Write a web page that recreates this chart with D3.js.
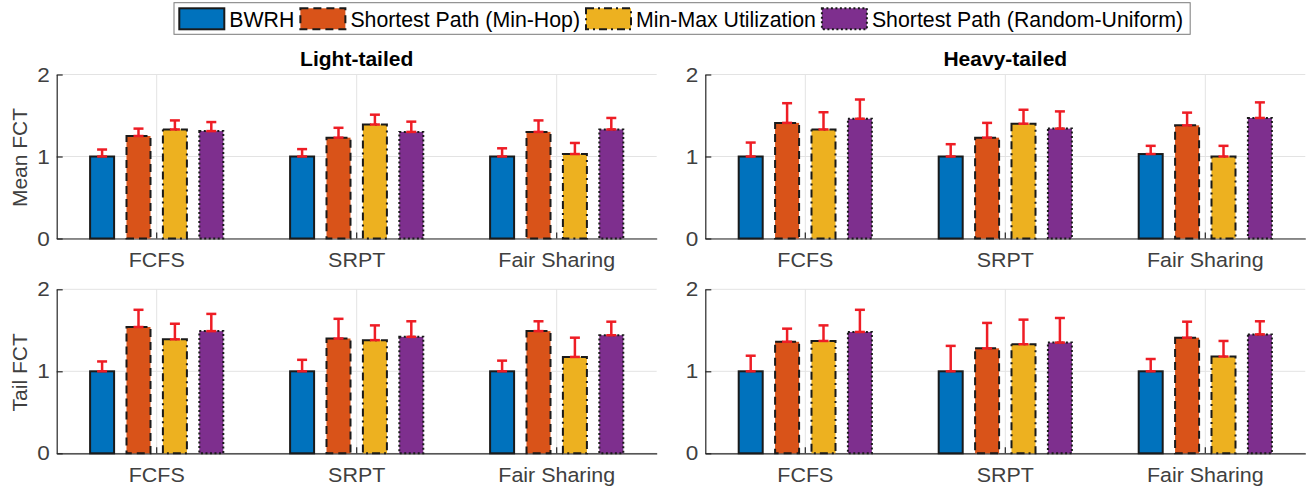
<!DOCTYPE html>
<html><head><meta charset="utf-8">
<script src="https://cdn.jsdelivr.net/npm/d3@7"></script>
<style>
body{margin:0;background:#fff}
svg{display:block}
text{font-family:"Liberation Sans",Arial,Helvetica,sans-serif}
</style>
</head><body>
<svg id="c" width="1312" height="489"></svg>
<script>
// ---------- data ----------
const categories = ["FCFS", "SRPT", "Fair Sharing"];
const seriesNames = ["BWRH", "Shortest Path (Min-Hop)", "Min-Max Utilization", "Shortest Path (Random-Uniform)"];
const yTickValues = [0, 1, 2];
const columnTitles = ["Light-tailed", "Heavy-tailed"];
const rowLabels = ["Mean FCT", "Tail FCT"];

// rows = series (BWRH, Min-Hop, Min-Max, Random-Uniform), columns = categories
const lightMean    = [[1.00, 1.00, 1.00], [1.25, 1.23, 1.30], [1.33, 1.39, 1.03], [1.31, 1.30, 1.33]];
const lightMeanErr = [[0.085, 0.09, 0.10], [0.09, 0.12, 0.14], [0.11, 0.12, 0.135], [0.11, 0.125, 0.14]];
const heavyMean    = [[1.00, 1.00, 1.03], [1.41, 1.23, 1.38], [1.33, 1.40, 1.00], [1.46, 1.34, 1.47]];
const heavyMeanErr = [[0.17, 0.15, 0.10], [0.24, 0.18, 0.155], [0.21, 0.17, 0.13], [0.235, 0.21, 0.19]];
const lightTail    = [[1.00, 1.00, 1.00], [1.54, 1.40, 1.49], [1.39, 1.38, 1.175], [1.49, 1.42, 1.44]];
const lightTailErr = [[0.12, 0.14, 0.13], [0.21, 0.24, 0.12], [0.19, 0.18, 0.235], [0.21, 0.19, 0.165]];
const heavyTail    = [[1.00, 1.00, 1.00], [1.36, 1.28, 1.41], [1.37, 1.33, 1.18], [1.48, 1.35, 1.45]];
const heavyTailErr = [[0.19, 0.31, 0.15], [0.16, 0.31, 0.195], [0.19, 0.30, 0.19], [0.27, 0.30, 0.16]];

// ---------- styles ----------
const TICKFONT = 19.5, YTICKFONT = 20.5, SX = 1.1;
const colors = ["#0072BD", "#D95319", "#EDB120", "#7E2F8E"];
const dashes = [null, "8,5", "8,4,2,4", "2,2.5"];
const edgeColor = "#1a1a1a";
const errColor = "#EE1D25";
const axisColor = "#262626";
const gridColor = "#e3e3e3";
const tickColor = "#404040";

const svg = d3.select("#c");

const panels = [
  {vals: lightMean, errs: lightMeanErr, col: 0, row: 0},
  {vals: heavyMean, errs: heavyMeanErr, col: 1, row: 0},
  {vals: lightTail, errs: lightTailErr, col: 0, row: 1},
  {vals: heavyTail, errs: heavyTailErr, col: 1, row: 1}
];
const colX = [[56.7, 656.7], [705.3, 1305.3]];
const rowY = [[74.5, 238.5], [289.3, 453.3]];

panels.forEach(p => {
  const [x0, x1] = colX[p.col];
  const [yt, yb] = rowY[p.row];
  const g = svg.append("g");

  const xb = d3.scaleBand().domain(categories).range([x0, x1]).paddingInner(0).paddingOuter(0);
  const y = d3.scaleLinear().domain([0, 2]).range([yb, yt]);
  const off = d3.scaleLinear().domain([0, 3]).range([-0.273, 0.273]);
  const bw = xb.bandwidth();
  const barW = 0.12 * bw;
  const cx = c => xb(c) + bw / 2;

  // grid
  g.append("g").selectAll("line").data(yTickValues).join("line")
    .attr("x1", x0).attr("x2", x1).attr("y1", d => y(d)).attr("y2", d => y(d))
    .attr("stroke", gridColor).attr("stroke-width", 1);
  g.append("g").selectAll("line").data(categories).join("line")
    .attr("x1", d => cx(d)).attr("x2", d => cx(d)).attr("y1", yb).attr("y2", yt)
    .attr("stroke", gridColor).attr("stroke-width", 1);

  // axes
  const ya = g.append("g").attr("transform", `translate(${x0},0)`)
    .call(d3.axisLeft(y).tickValues(yTickValues).tickFormat(d3.format("d")).tickSizeInner(-6).tickSizeOuter(0).tickPadding(6.4));
  const xa = g.append("g").attr("transform", `translate(0,${yb})`)
    .call(d3.axisBottom(xb).tickSizeInner(-6).tickSizeOuter(0).tickPadding(15));
  [ya, xa].forEach((a, k) => {
    a.select(".domain").attr("stroke", axisColor).attr("stroke-width", 1.2);
    a.selectAll(".tick line").attr("stroke", axisColor).attr("stroke-width", 1.2);
    a.selectAll(".tick text").attr("fill", tickColor)
      .style("font-size", (k === 0 ? YTICKFONT : TICKFONT) + "px")
      .style("font-family", '"Liberation Sans",Arial,Helvetica,sans-serif')
      .attr("transform", `scale(${SX},1)`);
  });

  // bars
  seriesNames.forEach((s, i) => {
    const sg = g.append("g");
    sg.selectAll("rect").data(categories).join("rect")
      .attr("x", c => cx(c) + off(i) * bw - barW / 2)
      .attr("width", barW)
      .attr("y", (c, j) => y(p.vals[i][j]))
      .attr("height", (c, j) => y(0) - y(p.vals[i][j]))
      .attr("fill", colors[i])
      .attr("stroke", edgeColor)
      .attr("stroke-width", 2)
      .attr("stroke-dasharray", dashes[i]);
  });

  // error bars (upper only, caps at both ends)
  seriesNames.forEach((s, i) => {
    const eg = g.append("g").attr("stroke", errColor).attr("stroke-width", 2.5);
    categories.forEach((c, j) => {
      const xc = cx(c) + off(i) * bw;
      const v = p.vals[i][j], e = p.errs[i][j];
      eg.append("line").attr("x1", xc).attr("x2", xc).attr("y1", y(v)).attr("y2", y(v + e));
      eg.append("line").attr("x1", xc - 5).attr("x2", xc + 5).attr("y1", y(v + e)).attr("y2", y(v + e));
      eg.append("line").attr("x1", xc - 5).attr("x2", xc + 5).attr("y1", y(v)).attr("y2", y(v));
    });
  });

  if (p.row === 0) {
    g.append("text").attr("x", (x0 + x1) / 2).attr("y", 66)
      .attr("text-anchor", "middle").attr("font-weight", "bold")
      .style("font-size", "21px").attr("fill", "#000").text(columnTitles[p.col]);
  }
  if (p.col === 0) {
    g.append("text").attr("transform", `translate(27,${(yt + yb) / 2 + 1}) rotate(-90)`)
      .attr("text-anchor", "middle").style("font-size", "21px")
      .attr("fill", tickColor).text(rowLabels[p.row]);
  }
});

// ---------- legend ----------
const LFONT = 21.3;
const lg = svg.append("g");
const box = lg.append("rect").attr("x", 174).attr("y", 2.7).attr("height", 31.6)
  .attr("fill", "#fff").attr("stroke", "#7a7a7a").attr("stroke-width", 1);
let lx = 178.3;
seriesNames.forEach((s, i) => {
  lg.append("rect").attr("x", lx + 1).attr("y", 8.3).attr("width", 45).attr("height", 21)
    .attr("fill", colors[i]).attr("stroke", edgeColor).attr("stroke-width", 2)
    .attr("stroke-dasharray", dashes[i]);
  const t = lg.append("text").attr("x", lx + 51).attr("y", 26.5)
    .style("font-size", LFONT + "px").attr("fill", "#000").text(s);
  lx = lx + 51 + t.node().getComputedTextLength() + 5;
});
box.attr("width", lx + 2 - 174);
</script>
</body></html>
